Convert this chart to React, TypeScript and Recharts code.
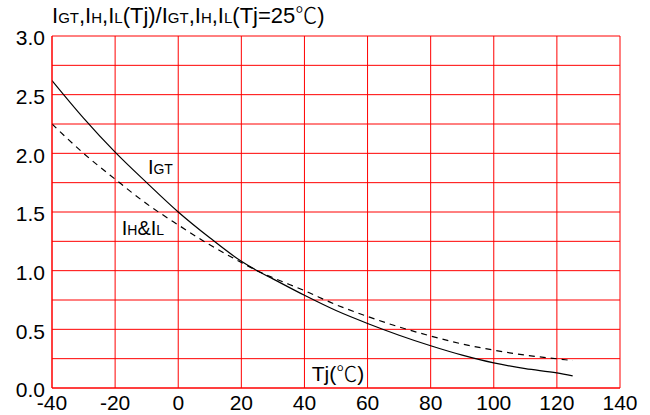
import React from 'react';
import { LineChart, Line, XAxis, YAxis, CartesianGrid, ReferenceDot } from 'recharts';

const temps = [-40, -30, -20, -10, 0, 10, 20, 25, 30, 40, 50, 60, 70, 80, 90, 100, 110, 120, 125];
const igtValues = [2.62, 2.3, 2.01, 1.75, 1.5, 1.28, 1.08, 1.0, 0.93, 0.79, 0.66, 0.55, 0.45, 0.36, 0.28, 0.214, 0.165, 0.129, 0.103];
const ihValues = [2.25, 2.0, 1.78, 1.57, 1.39, 1.22, 1.07, 1.0, 0.94, 0.83, 0.71, 0.61, 0.52, 0.443, 0.375, 0.323, 0.28, 0.249, 0.234];
const xTicks = [-40, -20, 0, 20, 40, 60, 80, 100, 120, 140];
const yTicks = [0, 0.25, 0.5, 0.75, 1, 1.25, 1.5, 1.75, 2, 2.25, 2.5, 2.75, 3];

const igtData = temps.map((t, i) => ({ t, v: igtValues[i] }));
const ihData = temps.map((t, i) => ({ t, v: ihValues[i] }));

const FONT = '"Liberation Sans", Arial, sans-serif';
const CJK = '"Noto Sans CJK SC", sans-serif';

type Part = { text: string; small?: boolean; cjk?: boolean };

const makeLabel = (parts: Part[], size: number) => (props: any) => {
  const vb = props.viewBox || {};
  const x = (vb.x ?? 0) + (vb.width ?? 0) / 2;
  const y = (vb.y ?? 0) + (vb.height ?? 0) / 2;
  return (
    <text x={x} y={y} fontFamily={FONT} fontSize={size} fill="#000" textAnchor="start">
      {parts.map((p, i) => (
        <tspan key={i} fontSize={p.small ? 14 : size} fontFamily={p.cjk ? CJK : FONT} fontWeight={p.cjk ? 300 : 400}>{p.text}</tspan>
      ))}
    </text>
  );
};

const igtLabel = makeLabel([{ text: 'I' }, { text: 'GT', small: true }], 20);
const ihLabel = makeLabel([{ text: 'I' }, { text: 'H', small: true }, { text: '&I' }, { text: 'L', small: true }], 20);
const tjLabel = makeLabel([{ text: 'Tj(' }, { text: '℃', cjk: true }, { text: ')' }], 21);

export default function App() {
  return (
    <div style={{ position: 'absolute', left: 0, top: 0, width: 650, height: 415, background: '#fff' }}>
      <svg width={650} height={40} style={{ position: 'absolute', left: 0, top: 0 }}>
        <text x={52} y={22.7} fontFamily={FONT} fontSize={22} fill="#000">
          <tspan>I</tspan><tspan fontSize={15}>GT</tspan><tspan>,I</tspan><tspan fontSize={15}>H</tspan>
          <tspan>,I</tspan><tspan fontSize={15}>L</tspan><tspan>(Tj)/I</tspan><tspan fontSize={15}>GT</tspan>
          <tspan>,I</tspan><tspan fontSize={15}>H</tspan><tspan>,I</tspan><tspan fontSize={15}>L</tspan>
          <tspan>(Tj=25</tspan><tspan fontFamily={CJK} fontWeight={300}>℃</tspan><tspan>)</tspan>
        </text>
      </svg>
      <LineChart width={650} height={415} margin={{ top: 36, right: 30, bottom: 0, left: 0 }}>
        <CartesianGrid stroke="#ff0000" strokeWidth={1} />
        <XAxis
          type="number"
          dataKey="t"
          domain={[-40, 140]}
          ticks={xTicks}
          allowDataOverflow
          height={27}
          tickSize={0}
          tickMargin={7}
          axisLine={{ stroke: '#ff0000' }}
          tick={{ fill: '#000', fontSize: 21, fontFamily: FONT }}
          interval={0}
        />
        <YAxis
          type="number"
          domain={[0, 3]}
          ticks={yTicks}
          width={52}
          tickSize={0}
          tickMargin={7}
          axisLine={{ stroke: '#ff0000' }}
          tick={{ fill: '#000', fontSize: 21, fontFamily: FONT, dy: 2 }}
          tickFormatter={(v: number) => (Math.round(v * 100) % 50 === 0 ? v.toFixed(1) : '')}
          interval={0}
        />
        <Line data={igtData} dataKey="v" type="monotone" stroke="#000" strokeWidth={1.2} dot={false} isAnimationActive={false} />
        <Line data={ihData} dataKey="v" type="monotone" stroke="#000" strokeWidth={1.2} strokeDasharray="6 5" dot={false} isAnimationActive={false} />
        <ReferenceDot x={-9.6} y={1.82} r={0} fill="none" stroke="none" label={{ content: igtLabel }} />
        <ReferenceDot x={-17.9} y={1.3} r={0} fill="none" stroke="none" label={{ content: ihLabel }} />
        <ReferenceDot x={42.3} y={0.06} r={0} fill="none" stroke="none" label={{ content: tjLabel }} />
      </LineChart>
    </div>
  );
}
